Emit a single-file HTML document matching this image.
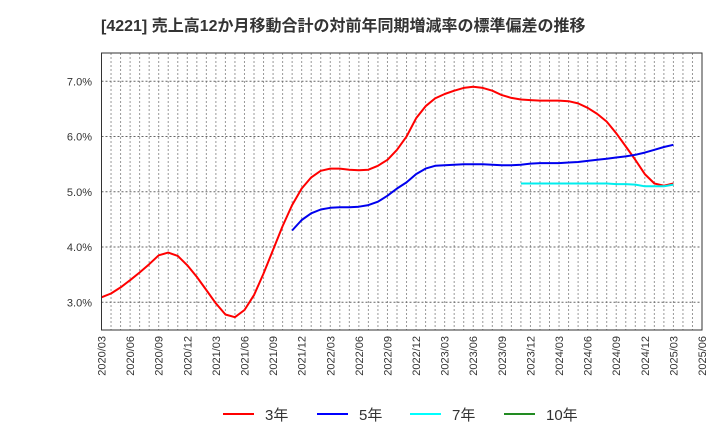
<!DOCTYPE html>
<html><head><meta charset="utf-8"><style>
body{margin:0;background:#fff;width:720px;height:440px;overflow:hidden}
svg{display:block;font-family:"Liberation Sans","Noto Sans CJK JP",sans-serif}
</style></head><body>
<svg id="chart" width="720" height="440">
<text x="101" y="31" font-size="16" font-weight="bold" fill="#333">[4221]  売上高12か月移動合計の対前年同期増減率の標準偏差の推移</text>
<g id="grid"></g><g id="axes"></g><g id="series"></g>
<rect x="101.5" y="53" width="600.5" height="277" fill="none" stroke="#333" stroke-width="1"/>
<g id="legend"></g>
</svg>
<script>
const yTicks=[3,4,5,6,7];
const yTickLabels=["3.0%","4.0%","5.0%","6.0%","7.0%"];
const xTickLabels=["2020/03","2020/06","2020/09","2020/12","2021/03","2021/06","2021/09","2021/12","2022/03","2022/06","2022/09","2022/12","2023/03","2023/06","2023/09","2023/12","2024/03","2024/06","2024/09","2024/12","2025/03","2025/06"];
const s3Start=0;
const s3=[3.09,3.16,3.27,3.40,3.54,3.69,3.85,3.90,3.84,3.67,3.46,3.22,2.98,2.78,2.73,2.86,3.13,3.52,3.95,4.38,4.76,5.06,5.26,5.38,5.42,5.42,5.40,5.39,5.40,5.47,5.58,5.76,6.00,6.33,6.55,6.69,6.77,6.83,6.88,6.90,6.88,6.83,6.75,6.70,6.67,6.66,6.65,6.65,6.65,6.64,6.60,6.52,6.41,6.27,6.06,5.82,5.58,5.32,5.15,5.11,5.15];
const s5Start=20;
const s5=[4.30,4.49,4.61,4.68,4.71,4.72,4.72,4.73,4.76,4.82,4.93,5.06,5.17,5.32,5.42,5.47,5.48,5.49,5.50,5.50,5.50,5.49,5.48,5.48,5.49,5.51,5.52,5.52,5.52,5.53,5.54,5.56,5.58,5.60,5.62,5.64,5.67,5.71,5.76,5.81,5.85];
const s7Start=44;
const s7=[5.15,5.15,5.15,5.15,5.15,5.15,5.15,5.15,5.15,5.15,5.14,5.14,5.13,5.10,5.10,5.10,5.13];
const NS="http://www.w3.org/2000/svg";
const X0=101.5,MW=9.532,Y3=302.3,PY=55.25;
const xs=m=>X0+m*MW, ys=v=>Y3-(v-3)*PY;
function mk(t,a,p){const e=document.createElementNS(NS,t);for(const k in a)e.setAttribute(k,a[k]);p.appendChild(e);return e;}
const grid=document.getElementById('grid'),axes=document.getElementById('axes'),ser=document.getElementById('series'),leg=document.getElementById('legend');
for(let m=1;m<63;m++){const l=mk('line',{x1:xs(m),x2:xs(m),y1:53,y2:330,stroke:'#999','stroke-dasharray':'2,2','stroke-width':1},grid);

}
yTicks.forEach((v,i)=>{const l=mk('line',{x1:101.5,x2:702,y1:ys(v),y2:ys(v),stroke:'#666','stroke-dasharray':'2,2','stroke-width':1},grid);


const t=mk('text',{x:92,y:ys(v)+4,'text-anchor':'end','font-size':11,fill:'#333'},axes);t.textContent=yTickLabels[i];

});
xTickLabels.forEach((s,i)=>{const x=xs(i*3);const t=mk('text',{transform:`translate(${x+4},336) rotate(-90)`,'text-anchor':'end','font-size':11,fill:'#333'},axes);t.textContent=s;

});
function line(arr,start,col,name){const d=arr.map((v,i)=>(i?'L':'M')+xs(start+i).toFixed(1)+','+ys(v).toFixed(1)).join('');
const p=mk('path',{d:d,fill:'none',stroke:col,'stroke-width':2,'stroke-linejoin':'round'},ser);

}
line(s3,s3Start,'#ff0000','series-3yr');
line(s5,s5Start,'#0000ee','series-5yr');
line(s7,s7Start,'#00eeee','series-7yr');
const legItems=[["3年","#ff0000",223],["5年","#0000ff",317],["7年","#00ffff",410],["10年","#228b22",504]];
legItems.forEach(([t,c,x])=>{const g=mk('g',{},leg);


mk('line',{x1:x,x2:x+31,y1:414,y2:414,stroke:c,'stroke-width':2},g);
const tx=mk('text',{x:x+42,y:420,'font-size':15,fill:'#333'},g);tx.textContent=t;});
</script>
</body></html>
